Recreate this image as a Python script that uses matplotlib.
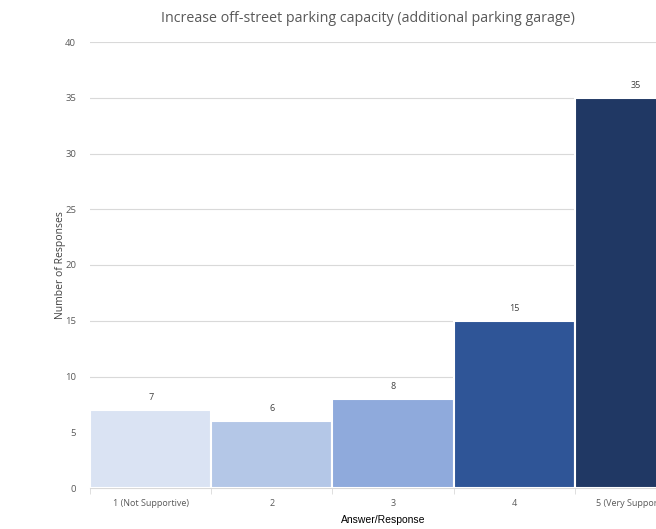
import matplotlib.pyplot as plt

categories = ['1 (Not Supportive)', '2', '3', '4', '5 (Very Supportive)']
responses = [7, 6, 8, 15, 35]
bar_colors = ['#DAE3F3', '#B4C7E7', '#8FAADC', '#2F5597', '#203864']

plt.rcParams['font.family'] = ['Open Sans', 'DejaVu Sans']

fig = plt.figure(figsize=(6.56, 5.29), dpi=100)
ax = fig.add_axes([90/656, 41/529, 606/656, 446/529])

x = range(len(categories))
ax.bar(x, responses, width=1.0, color=bar_colors, edgecolor='white', linewidth=1.5, zorder=3)
for i, v in enumerate(responses):
    ax.text(i, v + 0.7, str(v), ha='center', va='bottom', fontsize=6.5, color='#404040')

ax.set_xlim(-0.5, len(categories) - 0.5)
ax.set_ylim(0, 40)
ax.set_yticks(range(0, 41, 5))
ax.yaxis.grid(True, color='#d9d9d9', linewidth=0.8, zorder=0)
ax.tick_params(axis='y', length=0, labelsize=6.8, labelcolor='#595959', pad=10)

ax.set_xticks(x)
ax.set_xticklabels(categories)
ax.set_xticks([i - 0.5 for i in range(len(categories) + 1)], minor=True)
ax.tick_params(axis='x', which='major', length=0, labelsize=6.5, labelcolor='#595959', pad=8)
ax.tick_params(axis='x', which='minor', length=4, color='#d9d9d9')

for s in ['top', 'right', 'left']:
    ax.spines[s].set_visible(False)
ax.spines['bottom'].set_color('#d9d9d9')

ax.set_ylabel('Number of Responses', fontsize=7.5, color='#404040')
ax.yaxis.set_label_coords(-(90 - 66) / 606, 0.5)
ax.set_xlabel('Answer/Response', fontsize=7.5, family='Liberation Sans', color='black')
ax.xaxis.set_label_coords((383 - 90) / 606, -0.06)

fig.text(368/656, 1 - 18/529, 'Increase off-street parking capacity (additional parking garage)',
         ha='center', va='center', fontsize=10.3, color='#595959')

fig.savefig('out.png', dpi=100)
